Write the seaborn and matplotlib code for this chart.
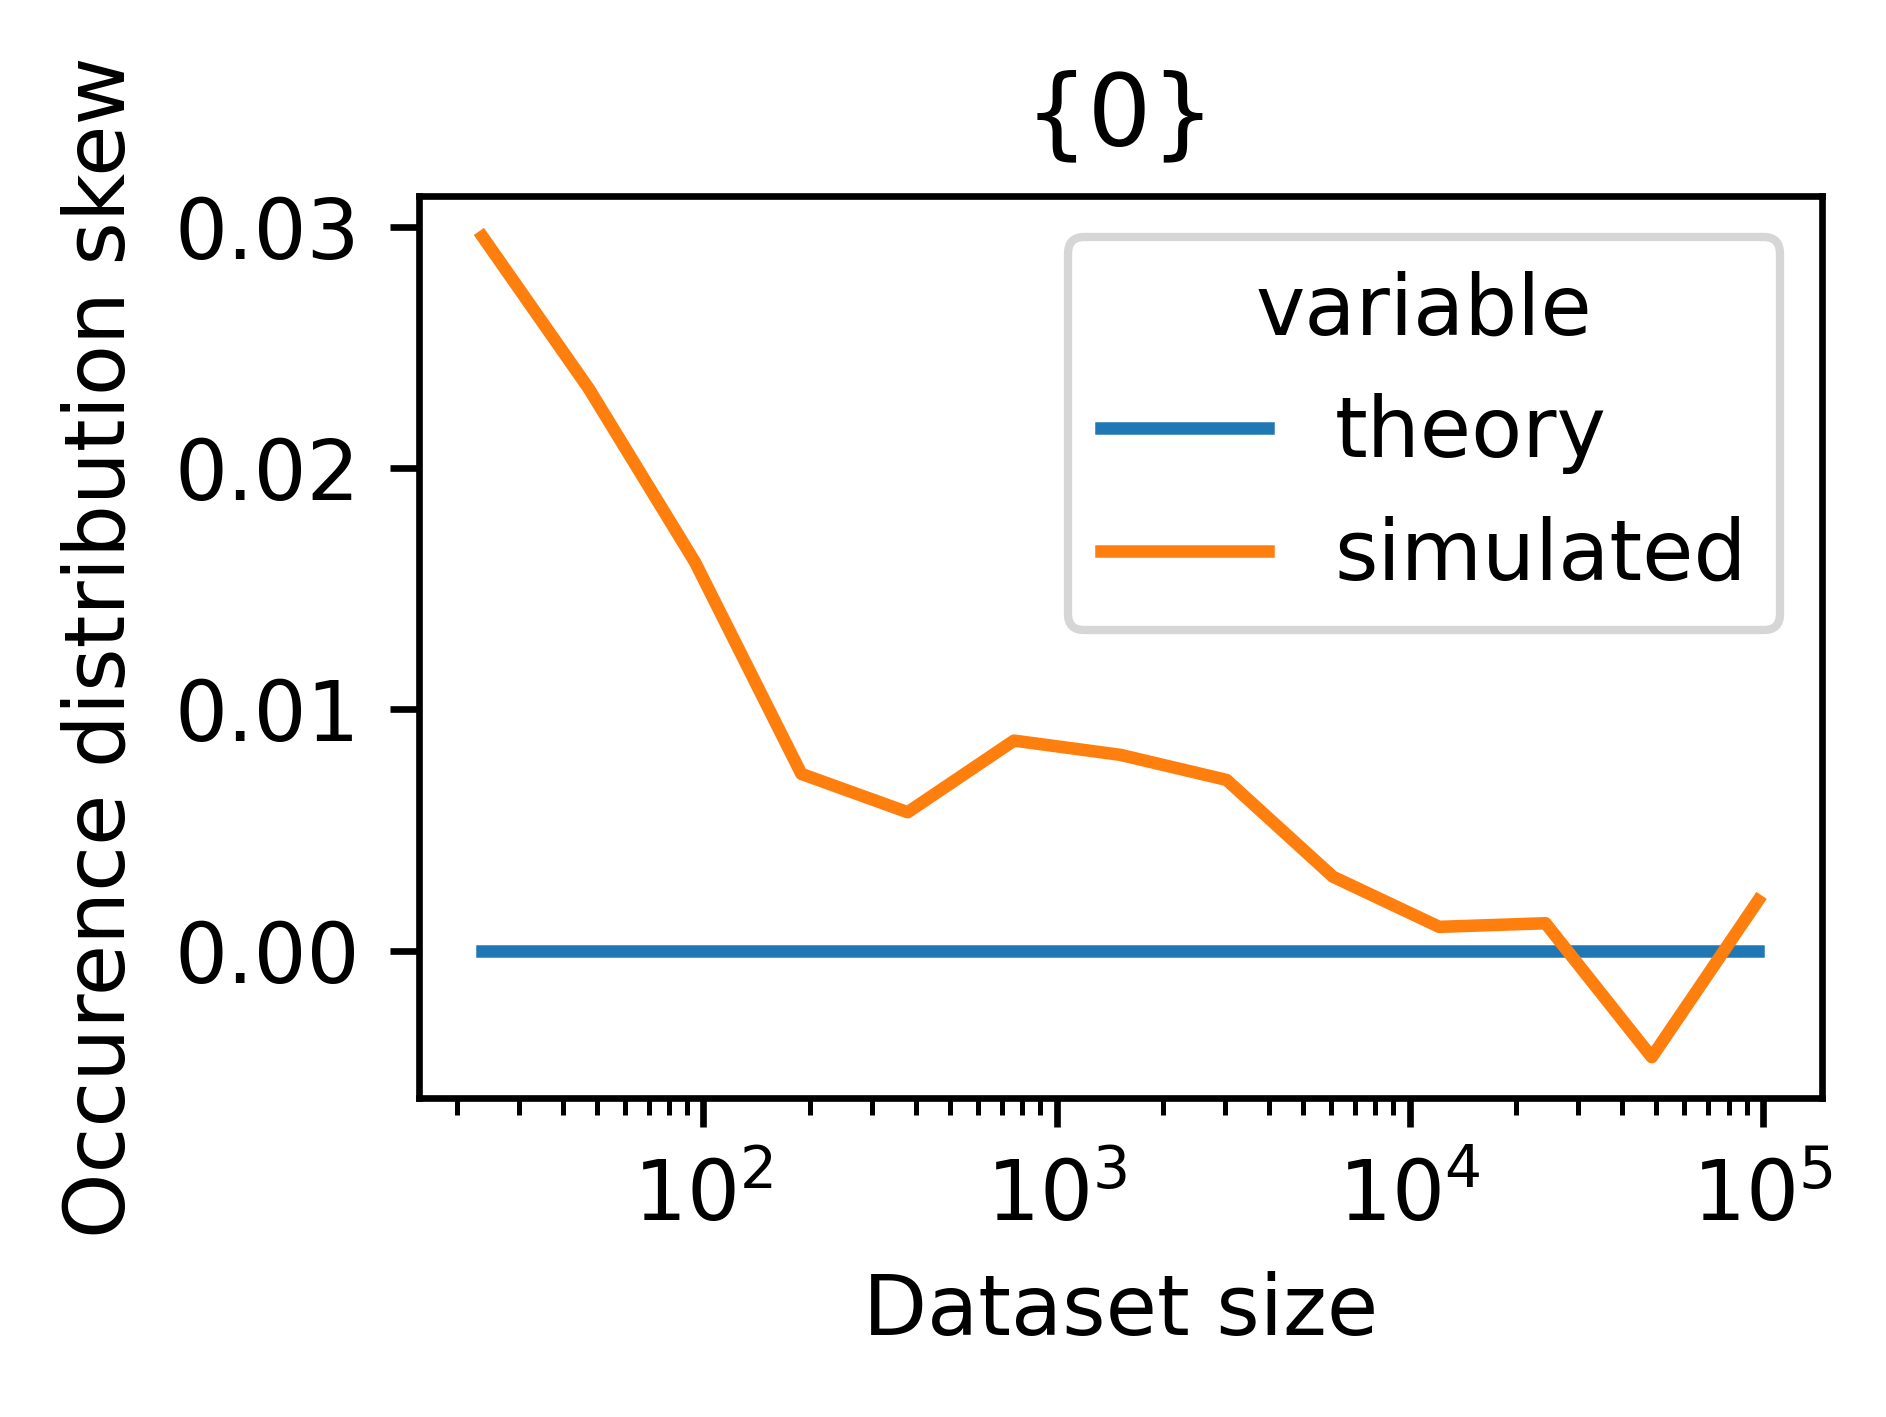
import matplotlib
matplotlib.use("Agg")
import matplotlib.pyplot as plt
import seaborn as sns
import pandas as pd

sizes = [97000 / 2**k for k in range(12, -1, -1)]
theory = [0.0] * 13
simulated = [0.0296, 0.0233, 0.0161, 0.00733, 0.00574, 0.00871, 0.00812,
             0.00708, 0.00307, 0.00099, 0.00114, -0.00441, 0.00208]

df = pd.DataFrame({"Dataset size": sizes, "theory": theory, "simulated": simulated})
long = df.melt(id_vars="Dataset size", value_vars=["theory", "simulated"])

plt.rcParams["font.size"] = 10
fig, ax = plt.subplots(figsize=(1886/600, 1417/600), dpi=600)
sns.lineplot(data=long, x="Dataset size", y="value", hue="variable", ax=ax)
ax.set_xscale("log")
ax.set_ylabel("Occurence distribution skew")
ax.set_title("{0}")
fig.subplots_adjust(left=0.222, right=0.966, top=0.862, bottom=0.225)
fig.savefig("out.png", dpi=600)
